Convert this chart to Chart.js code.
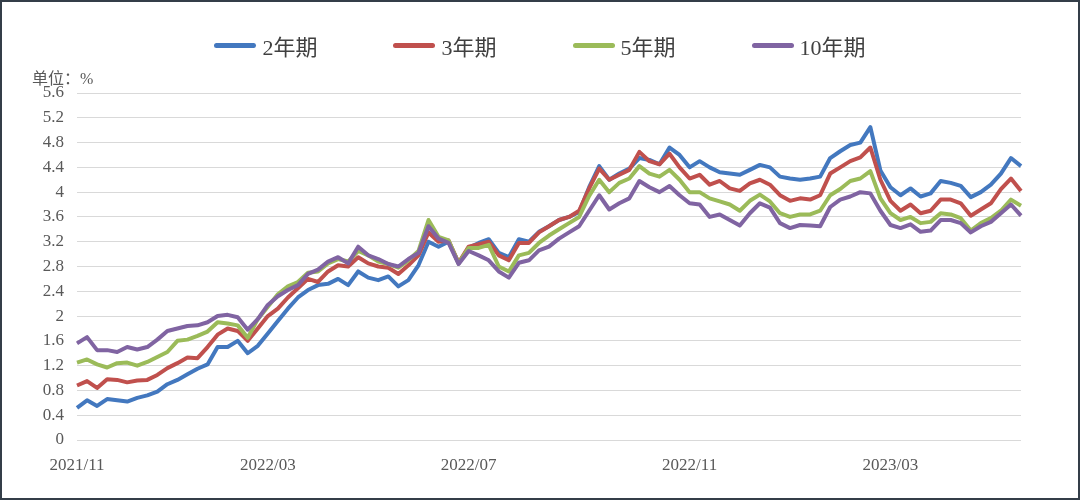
<!DOCTYPE html>
<html>
<head>
<meta charset="utf-8">
<script src="https://cdn.jsdelivr.net/npm/chart.js@4/dist/chart.umd.min.js"></script>
<style>
  html, body { margin: 0; padding: 0; background: #fff; }
  #wrap { position: relative; width: 1080px; height: 500px; overflow: hidden; }
  #frame { position: absolute; left: 0; top: 0; width: 1080px; height: 500px; box-sizing: border-box;
           border: 2px solid #343e48; pointer-events: none; }
  #unit { position: absolute; left: 32px; top: 65px; font: 16px "Liberation Serif", "Noto Sans CJK SC", serif; color: #595959; }
  #legend { position: absolute; left: 0; top: 29px; width: 1080px; display: flex; justify-content: center;
            font: 22px "Liberation Serif", "Noto Sans CJK SC", serif; color: #404040; }
  #legend .item { display: flex; align-items: center; margin: 0 38px; }
  #legend .swatch { width: 42px; height: 5px; border-radius: 3px; margin-right: 6px; }
</style>
</head>
<body>
<div id="wrap">
  <canvas id="myChart" width="1080" height="500"></canvas>
  <div id="unit">单位：%</div>
  <div id="legend"></div>
  <div id="frame"></div>
</div>
<script>
// tick labels on the date axis (index of the point they sit under)
var tickIdx = [0, 19, 39, 61, 81];
var tickText = ['2021/11', '2022/03', '2022/07', '2022/11', '2023/03'];

var names = ['2年期', '3年期', '5年期', '10年期'];
var colors = ['#4378bf', '#c0504d', '#9bbb59', '#8064a2'];

// yields, %
var y2 = [0.52, 0.64, 0.55, 0.66, 0.64, 0.62, 0.68, 0.72, 0.78, 0.90,
          0.97, 1.06, 1.15, 1.22, 1.50, 1.50, 1.60, 1.40, 1.52, 1.72,
          1.92, 2.12, 2.30, 2.42, 2.50, 2.52, 2.60, 2.50, 2.72, 2.62,
          2.58, 2.64, 2.48, 2.58, 2.82, 3.20, 3.12, 3.20, 2.85, 3.10,
          3.18, 3.24, 3.02, 2.95, 3.24, 3.20, 3.36, 3.45, 3.55, 3.60,
          3.68, 4.08, 4.42, 4.20, 4.30, 4.38, 4.55, 4.52, 4.45, 4.72,
          4.60, 4.40, 4.50, 4.40, 4.32, 4.30, 4.28, 4.36, 4.44, 4.40,
          4.25, 4.22, 4.20, 4.22, 4.25, 4.55, 4.66, 4.76, 4.80, 5.05,
          4.35, 4.08, 3.95, 4.06, 3.93, 3.98, 4.18, 4.15, 4.10, 3.92,
          4.00, 4.12, 4.30, 4.55, 4.42];
var y3 = [0.88, 0.95, 0.84, 0.98, 0.97, 0.93, 0.96, 0.97, 1.05, 1.16,
          1.24, 1.33, 1.32, 1.50, 1.70, 1.80, 1.76, 1.60, 1.80, 2.00,
          2.12, 2.30, 2.45, 2.60, 2.55, 2.72, 2.82, 2.80, 2.95, 2.85,
          2.80, 2.78, 2.68, 2.82, 2.98, 3.35, 3.20, 3.22, 2.86, 3.12,
          3.16, 3.20, 2.98, 2.90, 3.18, 3.18, 3.35, 3.45, 3.55, 3.60,
          3.70, 4.06, 4.38, 4.20, 4.28, 4.36, 4.65, 4.50, 4.45, 4.62,
          4.40, 4.22, 4.28, 4.12, 4.18, 4.06, 4.02, 4.14, 4.20, 4.12,
          3.95, 3.86, 3.90, 3.88, 3.95, 4.30, 4.40, 4.50, 4.56, 4.72,
          4.20, 3.86, 3.70, 3.80, 3.66, 3.70, 3.88, 3.88, 3.82, 3.62,
          3.72, 3.82, 4.05, 4.22, 4.02];
var y5 = [1.25, 1.30, 1.22, 1.17, 1.24, 1.25, 1.20, 1.26, 1.34, 1.42,
          1.60, 1.62, 1.68, 1.75, 1.90, 1.88, 1.85, 1.65, 1.95, 2.15,
          2.35, 2.48, 2.55, 2.70, 2.72, 2.85, 2.92, 2.88, 3.05, 2.98,
          2.88, 2.84, 2.78, 2.90, 3.05, 3.55, 3.28, 3.22, 2.85, 3.10,
          3.10, 3.15, 2.80, 2.72, 2.98, 3.02, 3.18, 3.30, 3.40, 3.50,
          3.60, 3.94, 4.20, 4.00, 4.15, 4.22, 4.42, 4.30, 4.25, 4.36,
          4.20, 4.00, 4.00, 3.90, 3.85, 3.80, 3.70, 3.86, 3.96, 3.85,
          3.66, 3.60, 3.64, 3.64, 3.70, 3.95, 4.05, 4.18, 4.22, 4.34,
          3.90, 3.66, 3.55, 3.60, 3.50, 3.52, 3.66, 3.64, 3.58, 3.38,
          3.50, 3.58, 3.70, 3.88, 3.78];
var y10 = [1.56, 1.66, 1.45, 1.45, 1.42, 1.50, 1.46, 1.50, 1.62, 1.76,
           1.80, 1.84, 1.85, 1.90, 2.00, 2.02, 1.98, 1.78, 1.95, 2.18,
           2.32, 2.42, 2.50, 2.68, 2.75, 2.88, 2.95, 2.85, 3.12, 2.98,
           2.92, 2.84, 2.80, 2.92, 3.02, 3.45, 3.25, 3.18, 2.84, 3.05,
           2.98, 2.90, 2.72, 2.62, 2.86, 2.90, 3.06, 3.12, 3.25, 3.35,
           3.45, 3.70, 3.95, 3.72, 3.82, 3.90, 4.18, 4.08, 4.00, 4.10,
           3.95, 3.82, 3.80, 3.60, 3.64, 3.55, 3.46, 3.66, 3.82, 3.75,
           3.50, 3.42, 3.47, 3.46, 3.45, 3.76, 3.88, 3.93, 4.00, 3.98,
           3.70, 3.47, 3.42, 3.48, 3.36, 3.38, 3.55, 3.55, 3.50, 3.35,
           3.45, 3.52, 3.66, 3.80, 3.62];

var series = [y2, y3, y5, y10];

var labels = [];
for (var i = 0; i < y2.length; i++) {
    var k = tickIdx.indexOf(i);
    labels.push(k >= 0 ? tickText[k] : '');
}

var datasets = [];
for (var s = 0; s < series.length; s++) {
    datasets.push({
        label: names[s],
        data: series[s],
        borderColor: colors[s],
        backgroundColor: colors[s],
        borderWidth: 4,
        borderJoinStyle: 'round',
        pointRadius: 0,
        tension: 0,
        order: series.length - s
    });
}

// legend as plain html
var lg = document.getElementById('legend');
for (var s = 0; s < names.length; s++) {
    var it = document.createElement('div');
    it.className = 'item';
    it.innerHTML = '<span class="swatch" style="background:' + colors[s] + '"></span><span>' + names[s] + '</span>';
    lg.appendChild(it);
}

var tickFont = {family: '"Liberation Serif", "Times New Roman", serif', size: 17};

new Chart(document.getElementById("myChart"), {
    type: 'line',
    data: {labels: labels, datasets: datasets},
    options: {
        responsive: false,
        animation: false,
        layout: {padding: {left: 0, right: 59, top: 93, bottom: 0}},
        plugins: {legend: {display: false}, tooltip: {enabled: false}},
        scales: {
            x: {
                grid: {display: false},
                border: {display: false},
                afterFit: function (sc) { sc.height = 60; },
                ticks: {
                    autoSkip: false, maxRotation: 0, padding: 7,
                    color: '#595959', font: tickFont,
                    callback: function (v, i) { return labels[i]; }
                }
            },
            y: {
                min: 0, max: 5.6,
                afterFit: function (sc) { sc.width = 77; },
                grid: {color: '#d9d9d9', lineWidth: 1, drawTicks: false},
                border: {display: false},
                ticks: {
                    stepSize: 0.4, padding: 13, color: '#595959', font: tickFont,
                    callback: function (v) { return String(Number(v.toFixed(1))); }
                }
            }
        }
    }
});
</script>
</body>
</html>
